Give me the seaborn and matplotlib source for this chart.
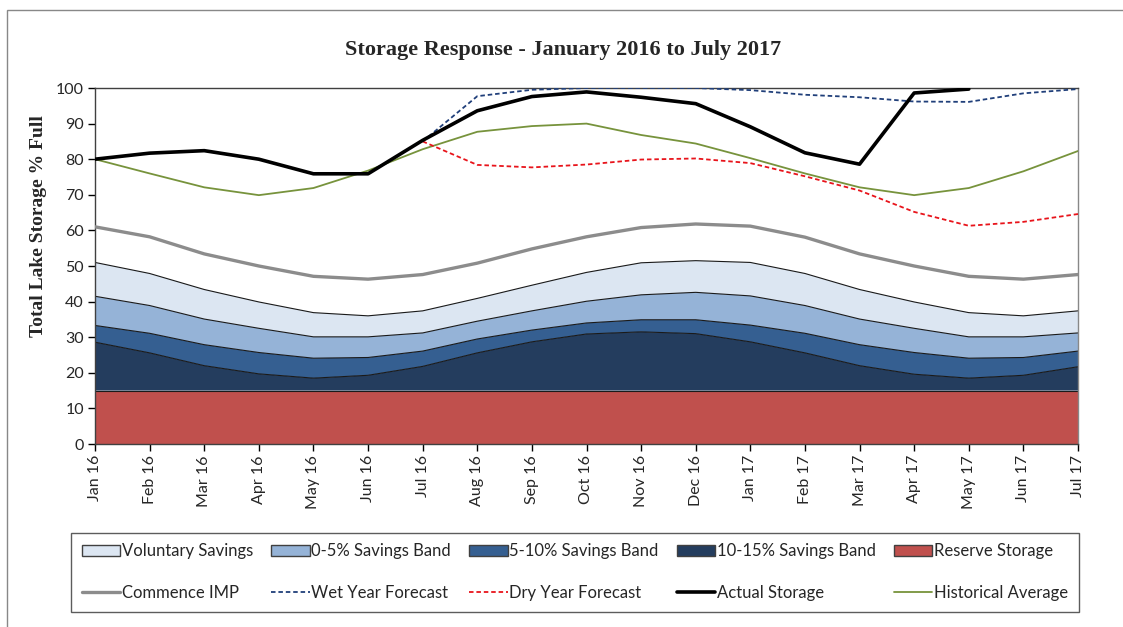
import numpy as np
import pandas as pd
import matplotlib
matplotlib.use("Agg")
import matplotlib.pyplot as plt
import seaborn as sns
from matplotlib.patches import Patch, Rectangle
from matplotlib.lines import Line2D

months = ["Jan 16", "Feb 16", "Mar 16", "Apr 16", "May 16", "Jun 16", "Jul 16",
          "Aug 16", "Sep 16", "Oct 16", "Nov 16", "Dec 16", "Jan 17", "Feb 17",
          "Mar 17", "Apr 17", "May 17", "Jun 17", "Jul 17"]

# stacked band tops (% full)
reserve_top = [15] * 19
band_10_15_top = [28.6, 25.6, 22.0, 19.7, 18.5, 19.3, 21.8, 25.6, 28.7, 30.9, 31.5, 31.0,
                  28.7, 25.6, 22.0, 19.6, 18.5, 19.3, 21.7]
band_5_10_top = [33.3, 31.1, 27.9, 25.7, 24.1, 24.3, 26.1, 29.5, 32.0, 34.0, 34.9, 34.9,
                 33.4, 31.1, 27.9, 25.7, 24.1, 24.3, 26.1]
band_0_5_top = [41.5, 38.9, 35.1, 32.5, 30.1, 30.1, 31.2, 34.5, 37.4, 40.1, 41.9, 42.6,
                41.6, 38.9, 35.1, 32.5, 30.1, 30.1, 31.2]
voluntary_top = [51.0, 47.9, 43.4, 39.9, 36.9, 36.0, 37.4, 40.9, 44.6, 48.2, 50.9, 51.5,
                 51.0, 47.9, 43.4, 39.9, 36.9, 36.0, 37.4]

commence_imp = [61.0, 58.2, 53.4, 50.0, 47.1, 46.3, 47.6, 50.8, 54.8, 58.2, 60.8, 61.8,
                61.2, 58.1, 53.4, 50.0, 47.1, 46.3, 47.6]
wet_forecast = [np.nan] * 6 + [85.0, 97.7, 99.5, 100, 100, 100, 99.4, 98.1, 97.4, 96.2,
                               96.1, 98.5, 99.7]
dry_forecast = [np.nan] * 6 + [85.0, 78.4, 77.7, 78.5, 79.9, 80.2, 78.9, 75.2, 71.2, 65.2,
                               61.3, 62.4, 64.6]
actual_storage = [80.0, 81.7, 82.4, 80.0, 75.9, 75.9, 85.3, 93.6, 97.6, 98.9, 97.4, 95.6,
                  89.1, 81.8, 78.6, 98.6, 99.7, np.nan, np.nan]
historical_avg = [80.0, 76.0, 72.1, 69.9, 71.9, 76.8, 82.8, 87.7, 89.3, 90.0, 86.8, 84.4,
                  80.3, 76.0, 72.1, 69.9, 71.9, 76.6, 82.3]

sns.set_theme(style="white")
plt.rcParams["font.family"] = ["Lato", "DejaVu Sans"]

fig = plt.figure(figsize=(11.23, 6.27), dpi=100)
ax = fig.add_axes([95 / 1123, 1 - 444 / 627, (1078 - 95) / 1123, (444 - 88) / 627])

x = np.arange(len(months))

# stacked areas
bands = [
    ("Reserve Storage", [0] * 19, reserve_top, "#C0504D"),
    ("10-15% Savings Band", reserve_top, band_10_15_top, "#243D5E"),
    ("5-10% Savings Band", band_10_15_top, band_5_10_top, "#355F91"),
    ("0-5% Savings Band", band_5_10_top, band_0_5_top, "#95B3D7"),
    ("Voluntary Savings", band_0_5_top, voluntary_top, "#DCE6F2"),
]
for name, lo, hi, col in bands:
    ax.fill_between(x, lo, hi, facecolor=col, edgecolor="none", zorder=1)
    ax.plot(x, hi, color="#1a1a1a", lw=0.8, zorder=2)

df = pd.DataFrame({"x": x, "Commence IMP": commence_imp, "Wet Year Forecast": wet_forecast,
                   "Dry Year Forecast": dry_forecast, "Actual Storage": actual_storage,
                   "Historical Average": historical_avg})

sns.lineplot(data=df, x="x", y="Commence IMP", ax=ax, color="#8C8C8C", lw=2.4, zorder=3)
sns.lineplot(data=df, x="x", y="Historical Average", ax=ax, color="#77933C", lw=1.3, zorder=3)
sns.lineplot(data=df, x="x", y="Dry Year Forecast", ax=ax, color="#E8141B", lw=1.3,
             zorder=4).lines[-1].set_dashes([2.5, 1.6])
sns.lineplot(data=df, x="x", y="Wet Year Forecast", ax=ax, color="#203F7A", lw=1.3,
             zorder=4).lines[-1].set_dashes([2.5, 1.6])
sns.lineplot(data=df, x="x", y="Actual Storage", ax=ax, color="black", lw=2.6, zorder=5)

ax.set_xlim(0, 18)
ax.set_ylim(0, 100)
ax.set_xticks(x)
ax.set_xticklabels(months, rotation=90, fontsize=11.5)
ax.set_yticks(np.arange(0, 101, 10))
ax.tick_params(axis="y", labelsize=11.5)
ax.tick_params(direction="out", length=5, width=1, color="black", bottom=True, left=True,
               pad=3)
for s in ax.spines.values():
    s.set_color("#404040")
    s.set_linewidth(1)
ax.spines["right"].set_color("#888888")
ax.set_xlabel("")
ax.set_ylabel("Total Lake Storage % Full", family="Liberation Serif", fontweight="bold",
              fontsize=14)
ax.yaxis.set_label_coords(-48 / 983, (444 - 226) / 356)

fig.text(563 / 1123, 1 - 50 / 627, "Storage Response - January 2016 to July 2017",
         family="Liberation Serif", fontweight="bold", fontsize=16, ha="center", va="center")

# legend: row-wise order in a 5 column layout
edge = "#404040"
h = {
    "Voluntary Savings": Patch(facecolor="#DCE6F2", edgecolor=edge),
    "0-5% Savings Band": Patch(facecolor="#95B3D7", edgecolor=edge),
    "5-10% Savings Band": Patch(facecolor="#355F91", edgecolor=edge),
    "10-15% Savings Band": Patch(facecolor="#243D5E", edgecolor=edge),
    "Reserve Storage": Patch(facecolor="#C0504D", edgecolor=edge),
    "Commence IMP": Line2D([], [], color="#8C8C8C", lw=2.4),
    "Wet Year Forecast": Line2D([], [], color="#203F7A", lw=1.3, dashes=[2.5, 1.6]),
    "Dry Year Forecast": Line2D([], [], color="#E8141B", lw=1.3, dashes=[2.5, 1.6]),
    "Actual Storage": Line2D([], [], color="black", lw=2.6),
    "Historical Average": Line2D([], [], color="#77933C", lw=1.3),
}
order = ["Voluntary Savings", "Commence IMP", "0-5% Savings Band", "Wet Year Forecast",
         "5-10% Savings Band", "Dry Year Forecast", "10-15% Savings Band", "Actual Storage",
         "Reserve Storage", "Historical Average"]
leg = fig.legend([h[k] for k in order], order, ncol=5, mode="expand",
                 bbox_to_anchor=(71 / 1123, 1 - 612 / 627, (1079 - 71) / 1123, (612 - 533) / 627),
                 loc="lower left", fontsize=12, frameon=True, fancybox=False,
                 handlelength=2.3, handletextpad=0.1, labelspacing=1.55, borderpad=0.65,
                 columnspacing=1.0, borderaxespad=0)
leg.get_frame().set_edgecolor("#333333")
leg.get_frame().set_linewidth(1)

# outer chart border
fig.patches.append(Rectangle((7 / 1123, -0.1), 1.2, 1.1 - 9.5 / 627, transform=fig.transFigure,
                             fill=False, edgecolor="#888888", lw=1))

fig.savefig("out.png", dpi=100)
